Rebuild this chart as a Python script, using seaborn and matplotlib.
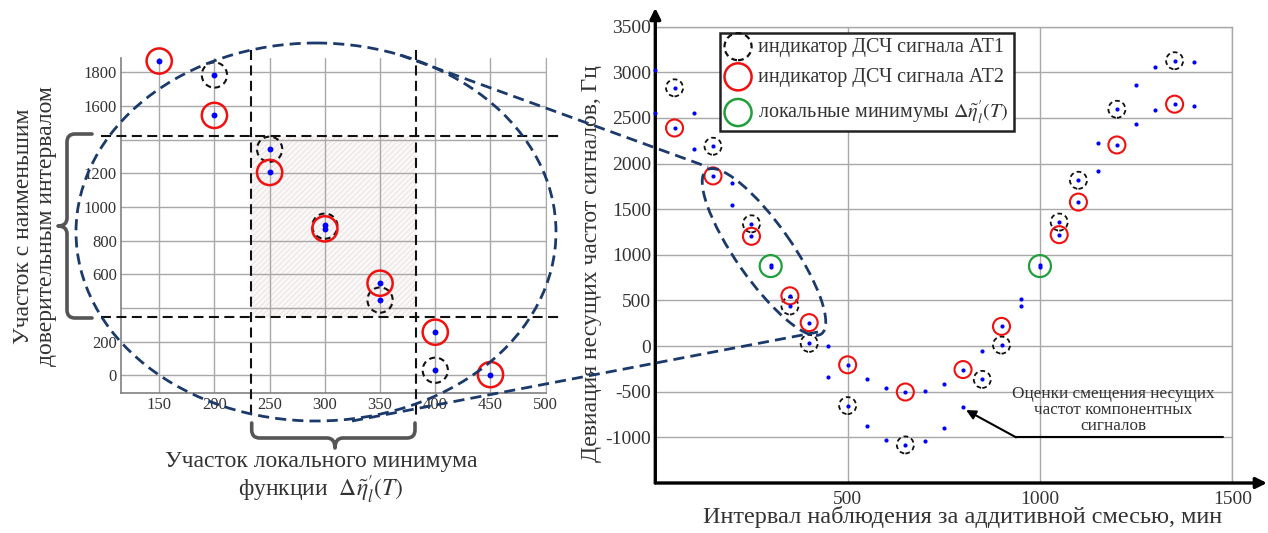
import matplotlib
matplotlib.use("Agg")
import numpy as np
import pandas as pd
import matplotlib.pyplot as plt
import seaborn as sns
from matplotlib.path import Path
from matplotlib.patches import PathPatch, Ellipse, Rectangle

# ---------------- main chart data ----------------
obs_t = [0, 50, 100, 150, 200, 250, 300, 350, 400, 450, 500, 550, 600, 650, 700,
         750, 800, 850, 900, 950, 1000, 1050, 1100, 1150, 1200, 1250, 1300, 1350, 1400]
est_a = [3030, 2830, 2550, 2190, 1787, 1340, 888, 551, 257, 0, -205, -365, -458, -503, -488,
         -410, -257, -56, 216, 521, 888, 1359, 1817, 2226, 2595, 2863, 3053, 3127, 3112]
est_b = [2550, 2390, 2156, 1865, 1545, 1203, 865, 440, 30, -342, -652, -879, -1028, -1083, -1039,
         -901, -670, -365, 11, 436, 865, 1221, 1578, 1914, 2204, 2435, 2588, 2651, 2628]

at1_t = [50, 150, 250, 350, 400, 500, 650, 850, 900, 1050, 1100, 1200, 1350]
at1_dev = [2830, 2190, 1340, 440, 30, -652, -1083, -365, 11, 1359, 1817, 2595, 3127]
at2_t = [50, 150, 250, 350, 400, 500, 650, 800, 900, 1050, 1100, 1200, 1350]
at2_dev = [2390, 1865, 1203, 551, 257, -205, -503, -257, 216, 1221, 1578, 2204, 2651]
min_t = [300, 1000]
min_dev = [877, 877]

main_xticks = [500, 1000, 1500]
main_yticks = [-1000, -500, 0, 500, 1000, 1500, 2000, 2500, 3000, 3500]

# ---------------- inset (zoomed) data ----------------
zoom_t = [150, 200, 200, 250, 250, 300, 300, 350, 350, 400, 400, 450]
zoom_dev = [1867, 1784, 1544, 1343, 1205, 892, 870, 547, 447, 256, 30, 4]
zoom_at1_t = [200, 250, 300, 350, 400]
zoom_at1_dev = [1784, 1343, 886, 447, 30]
zoom_at2_t = [150, 200, 250, 300, 350, 400, 450]
zoom_at2_dev = [1867, 1544, 1205, 870, 547, 256, 4]
zoom_xticks = [150, 200, 250, 300, 350, 400, 450, 500]
zoom_yticks = [0, 200, 400, 600, 800, 1000, 1200, 1400, 1600, 1800]
zoom_ylabels = ['0', '200', '', '600', '800', '1000', '1200', '', '1600', '1800']
local_min_span = [233.5, 382.5]      # interval of local minimum (x)
best_interval_span = [345, 1424]     # interval with smallest confidence band (y)

legend_labels = ['индикатор ДСЧ сигнала АТ1', 'индикатор ДСЧ сигнала АТ2',
                 r'локальные минимумы $\Delta\tilde{\eta}_l^{\prime}(T)$']

# ---------------- style ----------------
sns.set_style("white")
plt.rcParams['font.family'] = ['Liberation Serif', 'DejaVu Serif']
plt.rcParams['mathtext.fontset'] = 'stix'
plt.rcParams['axes.unicode_minus'] = False

TXT = '#333333'
NAVY = '#1b3a6b'
RED = '#f01010'
GREEN = '#1f9e3a'
GRID = '#a8a8a8'

W, H = 1268, 533
fig = plt.figure(figsize=(W / 100, H / 100), dpi=100)

# ================= main chart =================
ax = fig.add_axes([655.3 / W, 50 / H, 577 / W, 456.3 / H])
main_df = pd.DataFrame({'t': obs_t * 2, 'dev': est_a + est_b})
ax.set_axisbelow(True)
ax.grid(True, color=GRID, lw=1.0)
sns.scatterplot(data=main_df, x='t', y='dev', ax=ax, color='#0000ff', s=9,
                linewidth=0, zorder=6, clip_on=False, legend=False)
ax.scatter(at1_t, at1_dev, s=150, facecolors='none', edgecolors='#111111',
           linewidths=1.3, linestyle=(0, (2.6, 1.8)), zorder=5)
ax.scatter(at2_t, at2_dev, s=150, facecolors='none', edgecolors=RED,
           linewidths=1.5, zorder=5)
ax.scatter(min_t, min_dev, s=250, facecolors='none', edgecolors=GREEN,
           linewidths=1.6, zorder=5)

ax.set_xlim(0, 1500)
ax.set_ylim(-1500, 3500)
ax.set_xticks(main_xticks)
ax.set_yticks(main_yticks)
ax.tick_params(length=0, labelsize=14, labelcolor=TXT)
ax.tick_params(axis='x', pad=6)
ax.tick_params(axis='y', pad=3)
for s in ['top', 'right']:
    ax.spines[s].set_color(GRID)
    ax.spines[s].set_linewidth(1.0)
for s in ['left', 'bottom']:
    ax.spines[s].set_visible(False)
ax.set_xlabel('Интервал наблюдения за аддитивной смесью, мин', fontsize=17.5, color=TXT)
ax.set_ylabel('Девиация несущих частот сигналов, Гц', fontsize=17, color=TXT)
ax.xaxis.set_label_coords(0.533, -0.050)
ax.yaxis.set_label_coords(-0.092, 0.48)

# axis arrows
ax.annotate('', xy=(0, 1.041), xytext=(0, 0), xycoords='axes fraction',
            arrowprops=dict(arrowstyle='-|>', color='k', lw=2.4, mutation_scale=16,
                            shrinkA=0, shrinkB=0), annotation_clip=False)
ax.annotate('', xy=(1.060, 0), xytext=(0, 0), xycoords='axes fraction',
            arrowprops=dict(arrowstyle='-|>', color='k', lw=2.4, mutation_scale=16,
                            shrinkA=0, shrinkB=0), annotation_clip=False)

# legend
h1 = ax.scatter([], [], s=380, facecolors='none', edgecolors='#111111',
                linewidths=1.6, linestyle=(0, (2.6, 1.8)))
h2 = ax.scatter([], [], s=380, facecolors='none', edgecolors=RED, linewidths=1.8)
h3 = ax.scatter([], [], s=380, facecolors='none', edgecolors=GREEN, linewidths=1.8)
leg = ax.legend([h1, h2, h3], legend_labels, loc='upper left',
                bbox_to_anchor=(0.112, 0.9866), borderaxespad=0, fontsize=14.5,
                frameon=True, fancybox=False, framealpha=1, edgecolor='#222222',
                borderpad=0.25, labelspacing=0.55, handlelength=1.3,
                handletextpad=0.35, scatterpoints=1)
leg.get_frame().set_linewidth(1.8)
for t in leg.get_texts():
    t.set_color(TXT)

# callout
ax.plot([938, 1476], [-1000, -1000], color='k', lw=1.5, zorder=4)
ax.annotate('', xy=(808, -701), xytext=(938, -1000),
            arrowprops=dict(arrowstyle='-|>', color='k', lw=1.5, mutation_scale=14,
                            shrinkA=0, shrinkB=0))
ax.text(1190, -701, 'Оценки смещения несущих\nчастот компонентных\nсигналов',
        ha='center', va='center', fontsize=12.3, linespacing=1.0, color=TXT, zorder=4)

# ================= inset chart =================
axl = fig.add_axes([121 / W, (H - 393.3) / H, 424.7 / W, 335.3 / H])
axl.set_axisbelow(True)
axl.grid(True, color=GRID, lw=1.0)
axl.add_patch(Rectangle((local_min_span[0], best_interval_span[0]),
                        local_min_span[1] - local_min_span[0],
                        best_interval_span[1] - best_interval_span[0],
                        facecolor='#fbf8f8', edgecolor='#f0e8e8', hatch='//////',
                        lw=0, zorder=0.2))
zoom_df = pd.DataFrame({'t': zoom_t, 'dev': zoom_dev})
sns.scatterplot(data=zoom_df, x='t', y='dev', ax=axl, color='#0000ff', s=18,
                linewidth=0, zorder=6, legend=False)
axl.scatter(zoom_at1_t, zoom_at1_dev, s=330, facecolors='none', edgecolors='#111111',
            linewidths=1.5, linestyle=(0, (2.8, 2.0)), zorder=5)
axl.scatter(zoom_at2_t, zoom_at2_dev, s=330, facecolors='none', edgecolors=RED,
            linewidths=1.8, zorder=5, clip_on=False)
axl.set_xlim(115.4, 500)
axl.set_ylim(-107, 1885)
axl.set_xticks(zoom_xticks)
axl.set_yticks(zoom_yticks)
axl.set_yticklabels(zoom_ylabels)
axl.tick_params(length=0, labelsize=12, labelcolor=TXT, pad=3)
axl.set_xlabel('')
axl.set_ylabel('')
axl.spines['top'].set_visible(False)
axl.spines['right'].set_color(GRID)
for s in ['left', 'bottom']:
    axl.spines[s].set_color('#808080')
    axl.spines[s].set_linewidth(1.2)

# dashed bounds of the regions
dash_k = dict(color='#111111', lw=1.5, ls=(0, (4.8, 2.6)), clip_on=False, zorder=7)
for xv in local_min_span:
    axl.plot([xv, xv], [1933, -236], **dash_k)
for yv in best_interval_span:
    axl.plot([97, 512.3], [yv, yv], **dash_k)

# ================= overlay (annotations in pixel space) =================
ov = fig.add_axes([0, 0, 1, 1])
ov.set_xlim(0, W)
ov.set_ylim(H, 0)
ov.axis('off')
ov.patch.set_visible(False)

nav = dict(color=NAVY, lw=2.0, ls=(0, (4, 2.2)))
ov.add_patch(Ellipse((316, 232), 480, 378, fill=False, ec=NAVY, lw=2.0,
                     ls=(0, (4, 2.2))))
ov.add_patch(Ellipse((764, 252), 200, 56, angle=55, fill=False, ec=NAVY, lw=2.0,
                     ls=(0, (4, 2.2))))
ov.plot([400, 708], [55, 167], **nav)
ov.plot([352, 818], [421, 332], **nav)


def brace(pts_codes):
    verts = [p for p, c in pts_codes]
    codes = [c for p, c in pts_codes]
    return PathPatch(Path(verts, codes), fill=False, ec='#555555', lw=2.6,
                     capstyle='round', joinstyle='round')


M, L, C = Path.MOVETO, Path.LINETO, Path.CURVE3
# vertical brace (left)
ov.add_patch(brace([((92, 134), M), ((75, 134), L), ((67, 134), C), ((67, 142), C),
                    ((67, 218), L), ((67, 226), C), ((58, 226), C),
                    ((67, 226), C), ((67, 234), C), ((67, 310), L),
                    ((67, 318), C), ((75, 318), C), ((92, 318), L)]))
# horizontal brace (bottom)
ov.add_patch(brace([((251.7, 423), M), ((251.7, 430), L), ((251.7, 438), C), ((259.7, 438), C),
                    ((327, 438), L), ((335, 438), C), ((335, 448), C),
                    ((335, 438), C), ((343, 438), C), ((407, 438), L),
                    ((415, 438), C), ((415, 430), C), ((415, 423), L)]))

ov.text(35, 226, 'Участок с наименьшим\nдоверительным интервалом', rotation=90,
        ha='center', va='center', fontsize=17, color=TXT, linespacing=1.15)
ov.text(321, 461, 'Участок локального минимума', ha='center', va='center',
        fontsize=17, color=TXT)
ov.text(321, 490, r'функции  $\Delta\tilde{\eta}_l^{\prime}(T)$', ha='center', va='center',
        fontsize=17, color=TXT)

fig.savefig('out.png', dpi=100)
